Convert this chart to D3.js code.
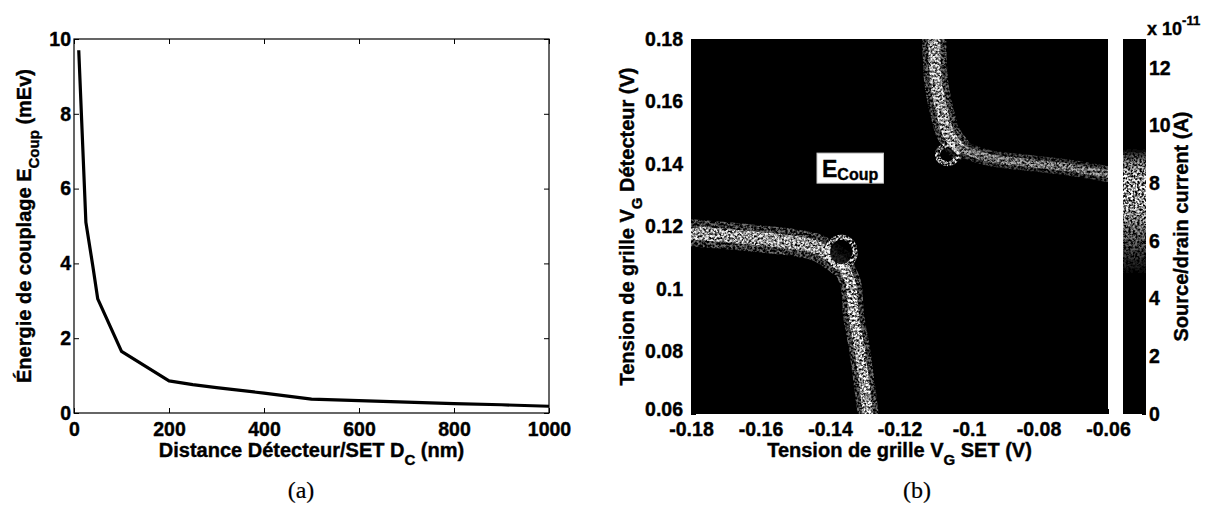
<!DOCTYPE html>
<html><head><meta charset="utf-8">
<script src="https://cdn.jsdelivr.net/npm/d3@7"></script>
<style>
body{margin:0;background:#fff}
svg{display:block}
text{font-family:"Liberation Sans",Arial,Helvetica,sans-serif;font-weight:bold;fill:#000;stroke:#000;stroke-width:0.4px}
.cap{font-family:"Liberation Serif","DejaVu Serif",serif;font-weight:normal;stroke-width:0.2px}
</style>
</head><body>
<svg id="c" width="1207" height="514"></svg>
<script>
// ---------- Panel (a): coupling energy vs distance ----------
const distanceNm  = [10, 25, 40, 50, 100, 200, 250, 300, 400, 500, 600, 700, 800, 900, 1000];
const couplingMeV = [9.7, 5.1, 3.9, 3.05, 1.65, 0.86, 0.76, 0.68, 0.53, 0.37, 0.33, 0.29, 0.25, 0.22, 0.18];
const aXTicks = [0, 200, 400, 600, 800, 1000];
const aYTicks = [0, 2, 4, 6, 8, 10];

// ---------- Panel (b): source/drain current map ----------
const vgSetTicks  = [-0.18, -0.16, -0.14, -0.12, -0.1, -0.08, -0.06];
const vgSetLabels = ["-0.18", "-0.16", "-0.14", "-0.12", "-0.1", "-0.08", "-0.06"];
const vgDetTicks  = [0.06, 0.08, 0.1, 0.12, 0.14, 0.16, 0.18];
const vgDetLabels = ["0.06", "0.08", "0.1", "0.12", "0.14", "0.16", "0.18"];
const cbTicks = [0, 2, 4, 6, 8, 10, 12];
const cbMax = 13;   // x1e-11 A
// ridge (conduction line) centres, lower-left resonance: horizontal arm, vertical arm
const ridge1HX = [-0.18, -0.1614, -0.1502, -0.1436, -0.1369];
const ridge1HY = [0.118, 0.1162, 0.1148, 0.1132, 0.1084];
const ridge1VX = [-0.1369, -0.1341, -0.1332, -0.1315, -0.1291];
const ridge1VY = [0.1084, 0.102, 0.0914, 0.0807, 0.0605];
// upper-right resonance: vertical arm, horizontal arm
const ridge2VX = [-0.1100, -0.1094, -0.1079, -0.1060, -0.1030];
const ridge2VY = [0.18, 0.1659, 0.1573, 0.1499, 0.1452];
const ridge2HX = [-0.1030, -0.0945, -0.0834, -0.0723, -0.06];
const ridge2HY = [0.1452, 0.1420, 0.1404, 0.1390, 0.1368];
// typical current on each arm (edge / core), x1e-11 A
const armEdgeCurrent = [6.0, 6.0, 6.0, 5.7];
const armCoreCurrent = [7.1, 7.3, 7.1, 6.6];
const backgroundCurrent = 0;
// low-current spots at the triple points
const holeX = [-0.1368, -0.1062];
const holeY = [0.1118, 0.1430];
const ecoupPos = [-0.1423, 0.1358];

// ---------- drawing ----------
const svg = d3.select("#c");
const TICK_FS = 19.5, TITLE_FS = 20, SUB_FS = 15;

// Panel (a)
const ax = d3.scaleLinear().domain([0, 1000]).range([74, 549]);
const ay = d3.scaleLinear().domain([0, 10]).range([413, 39]);
const ga = svg.append("g");

function styleAxis(g, fs) {
  g.select(".domain").remove();
  g.selectAll(".tick line").attr("stroke", "#000").attr("stroke-width", 1);
  g.selectAll("text").style("font-size", fs + "px").attr("fill", "#000");
}
ga.append("g").attr("transform", `translate(0,${ay(0)})`)
  .call(d3.axisBottom(ax).tickValues(aXTicks).tickSize(-5).tickPadding(9.5).tickFormat(d3.format("d")))
  .call(g => styleAxis(g, TICK_FS));
ga.append("g").attr("transform", `translate(0,${ay(10)})`)
  .call(d3.axisTop(ax).tickValues(aXTicks).tickSize(-5).tickFormat(""))
  .call(g => styleAxis(g, TICK_FS));
ga.append("g").attr("transform", `translate(${ax(0)},0)`)
  .call(d3.axisLeft(ay).tickValues(aYTicks).tickSize(-5).tickPadding(3).tickFormat(d3.format("d")))
  .call(g => styleAxis(g, TICK_FS));
ga.append("g").attr("transform", `translate(${ax(1000)},0)`)
  .call(d3.axisRight(ay).tickValues(aYTicks).tickSize(-5).tickFormat(""))
  .call(g => styleAxis(g, TICK_FS));
ga.append("rect").attr("x", ax(0)).attr("y", ay(10))
  .attr("width", ax(1000) - ax(0)).attr("height", ay(0) - ay(10))
  .attr("fill", "none").attr("stroke", "#000").attr("stroke-width", 1.2);

const lineA = d3.line().x((d, i) => ax(distanceNm[i])).y(d => ay(d));
ga.append("path").attr("d", lineA(couplingMeV))
  .attr("fill", "none").attr("stroke", "#000").attr("stroke-width", 3.2)
  .attr("stroke-linejoin", "round");

// titles (a)
function subTitle(g, parts, attrs) {
  const t = g.append("text").attr("text-anchor", "middle").style("font-size", TITLE_FS + "px");
  Object.entries(attrs).forEach(([k, v]) => t.attr(k, v));
  parts.forEach(p => {
    if (p.sub) {
      t.append("tspan").attr("dy", 8).style("font-size", SUB_FS + "px").text(p.sub);
    } else {
      t.append("tspan").attr("dy", p.back ? -8 : 0).text(p.t);
    }
  });
  return t;
}
subTitle(ga, [{t: "Distance Détecteur/SET D"}, {sub: "C"}, {t: " (nm)", back: true}],
  {x: (ax(0) + ax(1000)) / 2, y: 457});
subTitle(ga, [{t: "Énergie de couplage E"}, {sub: "Coup"}, {t: " (mEv)", back: true}],
  {transform: `translate(31,${(ay(0) + ay(10)) / 2}) rotate(-90)`});
ga.append("text").attr("class", "cap").attr("x", 301).attr("y", 498)
  .attr("text-anchor", "middle").style("font-size", "24px").text("(a)");

// Panel (b)
const bx = d3.scaleLinear().domain([-0.18, -0.06]).range([691, 1108]);
const by = d3.scaleLinear().domain([0.06, 0.18]).range([414, 39]);
const color = d3.scaleLinear()
  .domain([0, 4.8, 5.6, 6.6, 7.2, 8.3, 8.8, 9.2, cbMax])
  .range(["#000", "#000", "#4a4a4a", "#b0b0b0", "#fff", "#fff", "#9a9a9a", "#000", "#000"])
  .clamp(true);

const defs = svg.append("defs");
function speckle(id, x, y, w, h, seed, freq, k, b) {
  const f = defs.append("filter").attr("id", id).attr("filterUnits", "userSpaceOnUse")
    .attr("x", x).attr("y", y).attr("width", w).attr("height", h);
  f.append("feTurbulence").attr("type", "fractalNoise").attr("baseFrequency", freq)
    .attr("numOctaves", 2).attr("seed", seed).attr("result", "noise");
  f.append("feColorMatrix").attr("in", "noise").attr("type", "matrix")
    .attr("values", `0 0 0 0 0  0 0 0 0 0  0 0 0 0 0  ${k} 0 0 0 ${b}`).attr("result", "mask");
  f.append("feComposite").attr("in", "SourceGraphic").attr("in2", "mask").attr("operator", "in");
}
const HX = bx(-0.18), HY = by(0.18), HW = bx(-0.06) - bx(-0.18), HH = by(0.06) - by(0.18);
speckle("spk", HX, HY, HW, HH, 7, 0.42, 3.4, -1.25);
speckle("spkCore", HX, HY, HW, HH, 11, 0.45, 3.2, -1.1);
defs.append("clipPath").attr("id", "hmClip").append("rect")
  .attr("x", HX).attr("y", HY).attr("width", HW).attr("height", HH);

const gb = svg.append("g");
gb.append("rect").attr("x", HX).attr("y", HY).attr("width", HW).attr("height", HH)
  .attr("fill", color(backgroundCurrent));

const arms = [
  {xs: ridge1HX, ys: ridge1HY, w: 27},
  {xs: ridge1VX, ys: ridge1VY, w: 21},
  {xs: ridge2VX, ys: ridge2VY, w: 24},
  {xs: ridge2HX, ys: ridge2HY, w: 16}
];
const lineB = d3.line().x(d => bx(d[0])).y(d => by(d[1])).curve(d3.curveCatmullRom);
const ridgeG = gb.append("g").attr("clip-path", "url(#hmClip)");
const edgeG = ridgeG.append("g").attr("filter", "url(#spk)");
const coreG = ridgeG.append("g").attr("filter", "url(#spkCore)");
arms.forEach((a, j) => {
  const pts = a.xs.map((x, i) => [x, a.ys[i]]);
  edgeG.append("path").attr("d", lineB(pts)).attr("fill", "none")
    .attr("stroke", color(armEdgeCurrent[j])).attr("stroke-width", a.w)
    .attr("stroke-linecap", "round").attr("stroke-linejoin", "round");
  coreG.append("path").attr("d", lineB(pts)).attr("fill", "none")
    .attr("stroke", color(armCoreCurrent[j])).attr("stroke-width", a.w * 0.5)
    .attr("stroke-linecap", "round").attr("stroke-linejoin", "round");
});
// speckled rings around the low-current spots, then the spots themselves
holeX.forEach((x, i) => {
  edgeG.append("ellipse").attr("cx", bx(x)).attr("cy", by(holeY[i]))
    .attr("rx", i === 0 ? 14 : 10).attr("ry", i === 0 ? 15 : 9)
    .attr("fill", "none").attr("stroke", color(armCoreCurrent[0])).attr("stroke-width", 5);
});
holeX.forEach((x, i) => {
  ridgeG.append("ellipse").attr("cx", bx(x)).attr("cy", by(holeY[i]))
    .attr("rx", i === 0 ? 11 : 7).attr("ry", i === 0 ? 12 : 6)
    .attr("fill", color(backgroundCurrent)).attr("opacity", i === 0 ? 0.85 : 0.6);
});

// E_Coup label
const eLab = gb.append("g");
const eText = eLab.append("text").attr("x", bx(ecoupPos[0])).attr("y", by(ecoupPos[1]))
  .style("font-size", "23px");
eText.append("tspan").text("E");
eText.append("tspan").attr("dy", 3).style("font-size", "16px").text("Coup");
const bb = eText.node().getBBox();
eLab.insert("rect", "text").attr("x", bb.x - 5).attr("y", bb.y - 3)
  .attr("width", bb.width + 10).attr("height", bb.height + 3)
  .attr("fill", "#fff").attr("stroke", "#ccc").attr("stroke-width", 1);

// axes (b)
gb.append("g").attr("transform", `translate(0,${by(0.06)})`)
  .call(d3.axisBottom(bx).tickValues(vgSetTicks).tickSize(-5).tickPadding(8)
    .tickFormat((d, i) => vgSetLabels[i]))
  .call(g => styleAxis(g, TICK_FS));
gb.append("g").attr("transform", `translate(${bx(-0.18)},0)`)
  .call(d3.axisLeft(by).tickValues(vgDetTicks).tickSize(-5).tickPadding(8)
    .tickFormat((d, i) => vgDetLabels[i]))
  .call(g => styleAxis(g, TICK_FS))
  .call(g => g.selectAll(".tick").filter(d => d === 0.06).select("text").attr("dy", "0.1em"));
subTitle(gb, [{t: "Tension de grille V"}, {sub: "G"}, {t: " SET (V)", back: true}],
  {x: (bx(-0.18) + bx(-0.06)) / 2, y: 457});
subTitle(gb, [{t: "Tension de grille V"}, {sub: "G"}, {t: " Détecteur (V)", back: true}],
  {transform: `translate(634,${(by(0.06) + by(0.18)) / 2}) rotate(-90)`});
gb.append("text").attr("class", "cap").attr("x", 917).attr("y", 498)
  .attr("text-anchor", "middle").style("font-size", "24px").text("(b)");

// colorbar
const cy = d3.scaleLinear().domain([0, cbMax]).range([414, 39]);
const cbX0 = 1123, cbX1 = 1146;
speckle("spkCb", cbX0, 39, cbX1 - cbX0, 375, 5, 0.45, 3.0, -0.95);
const cbG = gb.append("g");
cbG.append("rect").attr("x", cbX0).attr("y", cy(cbMax)).attr("width", cbX1 - cbX0)
  .attr("height", cy(0) - cy(cbMax)).attr("fill", color(0));
const steps = d3.range(0, cbMax, cbMax / 130);
cbG.append("g").attr("filter", "url(#spkCb)").selectAll("rect").data(steps).join("rect")
  .attr("x", cbX0).attr("width", cbX1 - cbX0)
  .attr("y", d => cy(d + cbMax / 130)).attr("height", d => cy(d) - cy(d + cbMax / 130) + 0.5)
  .attr("fill", d => color(d + cbMax / 260));
cbG.append("g").attr("transform", `translate(${cbX1},0)`)
  .call(d3.axisRight(cy).tickValues(cbTicks).tickSize(-4).tickPadding(3).tickFormat(d3.format("d")))
  .call(g => styleAxis(g, TICK_FS));
const exp = cbG.append("text").attr("x", 1147).attr("y", 35).style("font-size", "18px");
exp.append("tspan").text("x 10");
exp.append("tspan").attr("dy", -10).style("font-size", "13px").text("-11");
cbG.append("text").attr("text-anchor", "middle").style("font-size", TITLE_FS + "px")
  .attr("transform", `translate(1188,${(cy(0) + cy(cbMax)) / 2}) rotate(-90)`)
  .text("Source/drain current (A)");
</script>
</body></html>
